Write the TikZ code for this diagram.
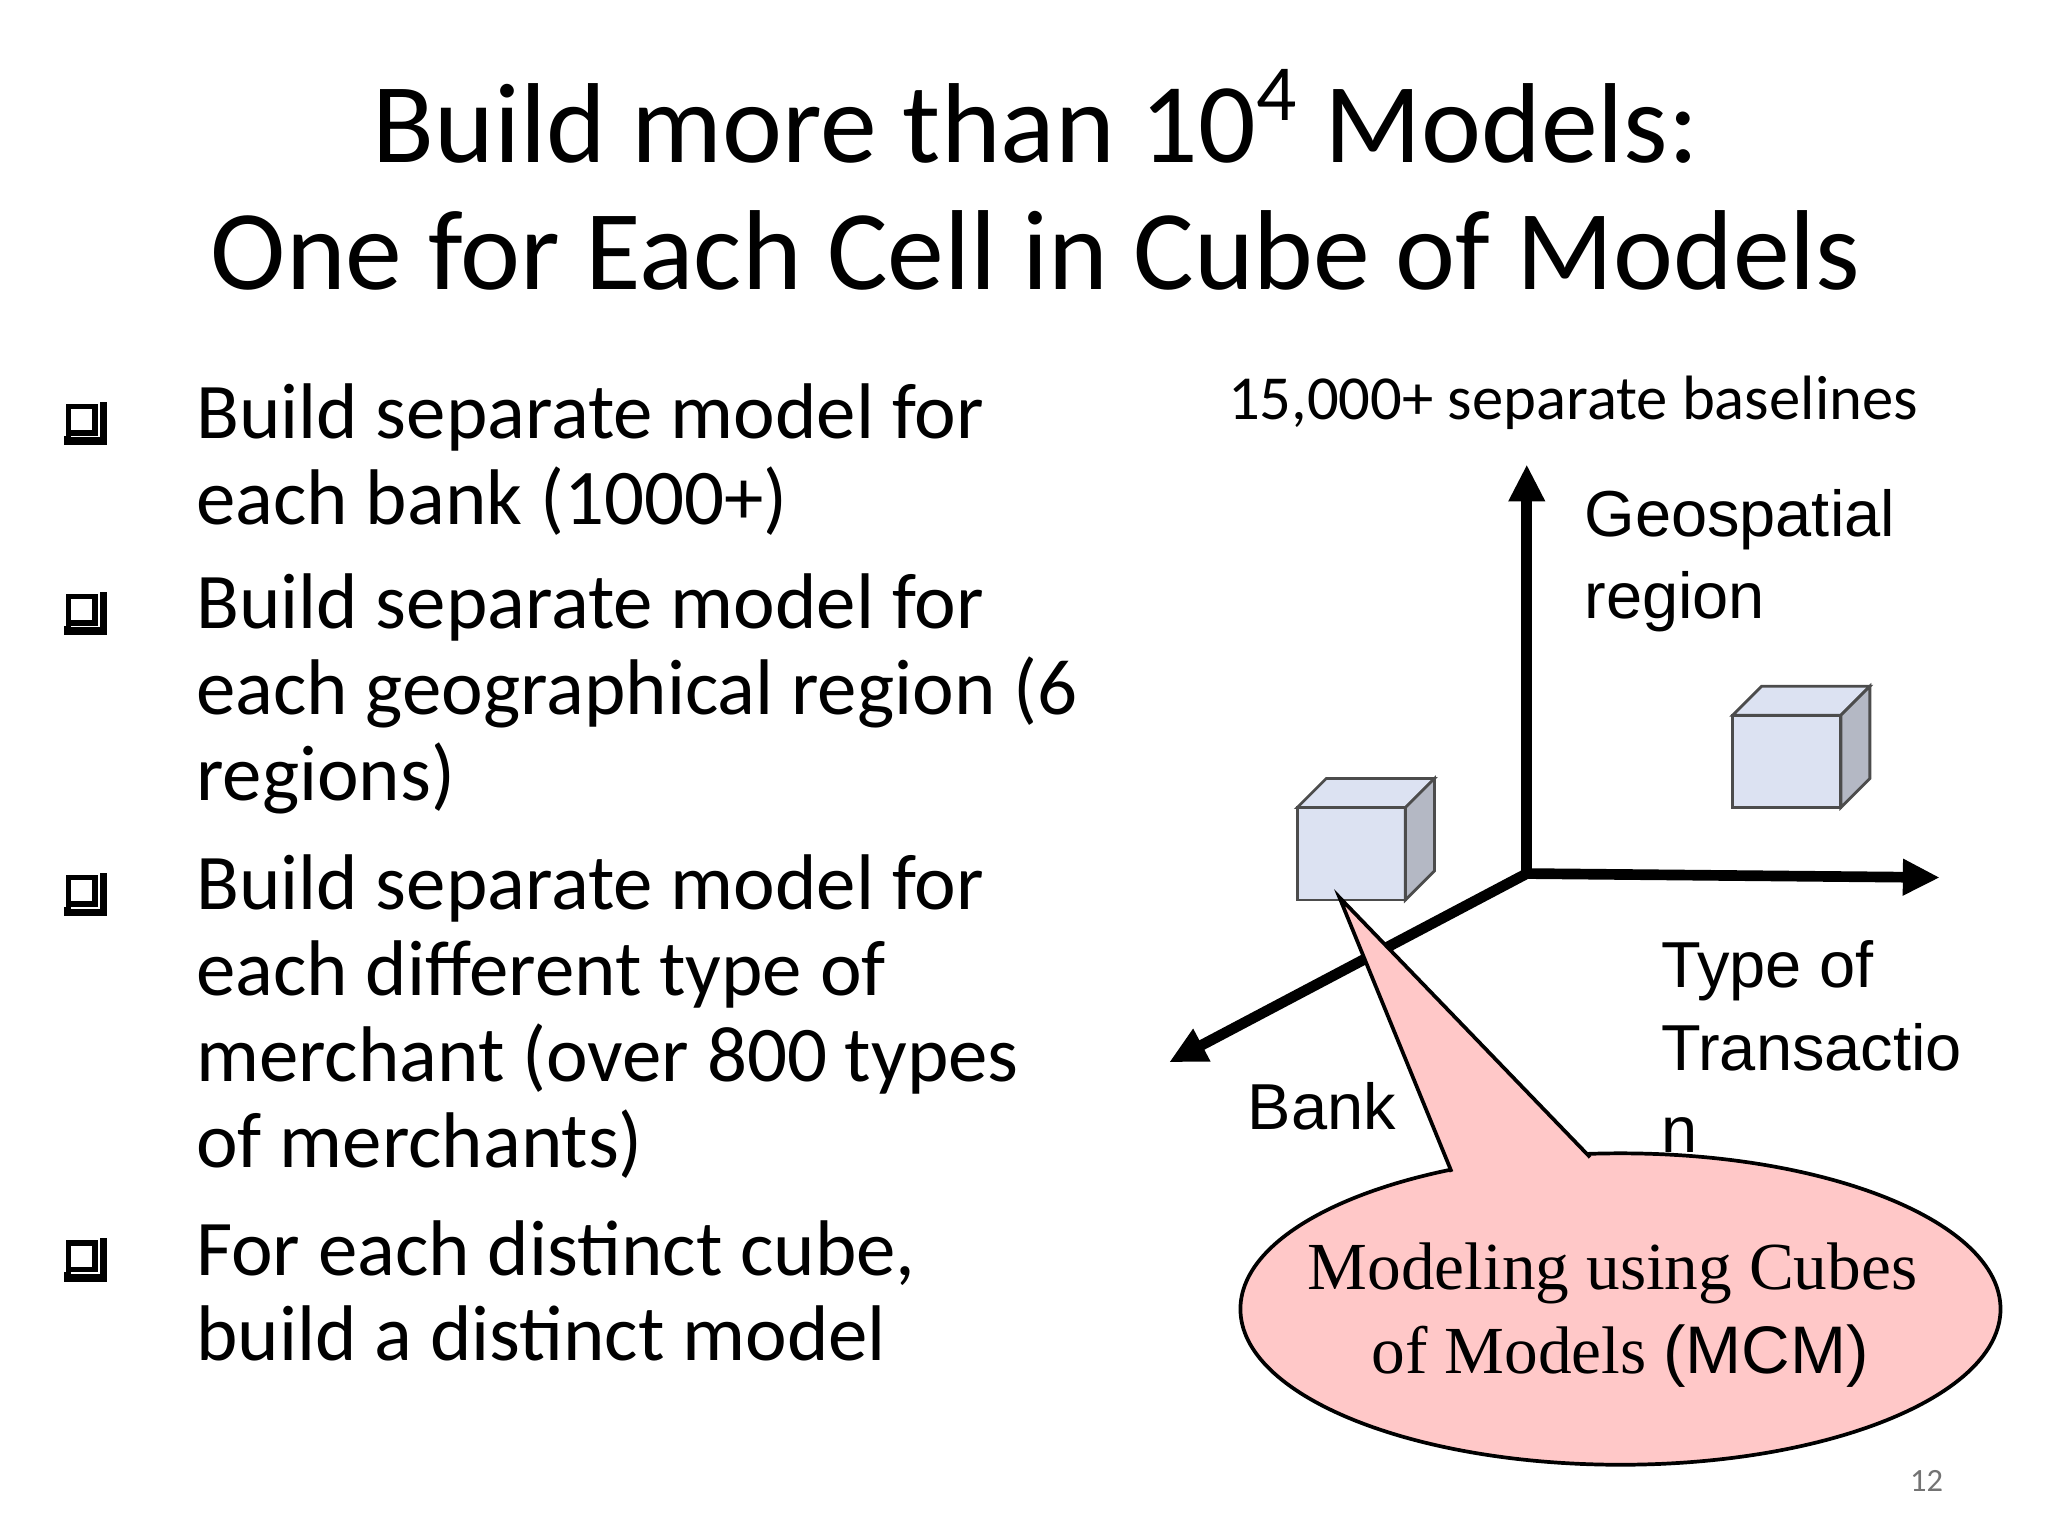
\documentclass[tikz,border=0pt]{standalone}
\usepackage{fontspec}
\setmainfont{Carlito}
\newfontfamily\arialf{Liberation Sans}
\newfontfamily\timesf{Liberation Serif}
\usetikzlibrary{arrows.meta}
\definecolor{cubefront}{HTML}{DCE2F2}
\definecolor{cubeside}{HTML}{B4B8C4}
\definecolor{callout}{HTML}{FFC8C8}
\begin{document}
\begin{tikzpicture}[x=0.01cm,y=-0.01cm,
  bul/.style={draw,line width=1.2pt,minimum size=0.2cm,inner sep=0pt},
  btext/.style={anchor=north west,align=left,font=\fontsize{17}{18.5}\selectfont,inner sep=0pt},
  lab/.style={font=\arialf\fontsize{14}{17.8}\selectfont,align=left,inner sep=0pt},
  axis/.style={line width=2.3pt,-{Triangle[length=0.28cm,width=0.26cm]}},
  cubeline/.style={draw=black!70,line width=0.6pt}]
\useasboundingbox (0,0) rectangle (1552,1164);
\node (t1) at (785,88) {\fontsize{24.5}{28}\selectfont Build more than 10\textsuperscript{4} Models:};
\node (t2) at (785,190) {\fontsize{24.5}{28}\selectfont One for Each Cell in Cube of Models};
% bullets
\foreach \n/\y in {b1/318,b2/462,b3/675,b4/952}{
  \node[bul] (\n) at (62,\y) {};
  \draw[line width=1.6pt] ([xshift=0.4pt]\n.south west) -- ([xshift=0.4pt,yshift=-1.2pt]\n.south west) -- ([xshift=1.2pt,yshift=-1.2pt]\n.south east) -- ([xshift=1.2pt,yshift=0.4pt]\n.north east);}
\node[btext] (x1) at (148,290) {Build separate model for\\each bank (1000+)};
\node[btext] (x2) at (148,434) {Build separate model for\\each geographical region (6\\regions)};
\node[btext] (x3) at (148,647) {Build separate model for\\each different type of\\merchant (over 800 types\\of merchants)};
\node[btext] (x4) at (148,924) {For each distinct cube,\\build a distinct model};
% right
\node (base) at (1192,305) {\fontsize{13.5}{15}\selectfont 15,000+ separate baselines};
\coordinate (o) at (1157,662);
\coordinate (up) at (1157,352);
\coordinate (rt) at (1470,665);
\coordinate (dl) at (886,805);
\draw[axis] (o) -- (up);
\draw[axis] (o) -- (rt);
\draw[axis] (o) -- (dl);
\node[lab,anchor=north west] (geo) at (1200,370) {Geospatial\\region};
\node[lab,anchor=north west] (typ) at (1258,712) {Type of\\Transactio\\n};
\node[lab,anchor=west] (bank) at (945,838) {Bank};
% cubes
\foreach \cx/\cy in {983/612,1313/542}{
  \filldraw[fill=cubefront,cubeline] (\cx,\cy) rectangle (\cx+82,\cy+70);
  \filldraw[fill=cubefront,cubeline] (\cx,\cy) -- (\cx+22,\cy-22) -- (\cx+104,\cy-22) -- (\cx+82,\cy) -- cycle;
  \filldraw[fill=cubeside,cubeline] (\cx+82,\cy) -- (\cx+104,\cy-22) -- (\cx+104,\cy+48) -- (\cx+82,\cy+70) -- cycle;
}
% callout
\coordinate (tip) at (1015,680);
\coordinate (pa) at (1100,888);
\coordinate (pb) at (1205,877);
\filldraw[fill=callout,draw=black,line width=0.8pt] (1228,992) ellipse [x radius=288,y radius=118];
\fill[callout] (tip) -- (pa) -- (1110,915) -- (1195,905) -- (pb) -- cycle;
\draw[line width=0.8pt] (pa) -- (tip) -- (pb);
\node (c1) at (1222,965) {\timesf\fontsize{14.5}{17}\selectfont Modeling using Cubes};
\node (c2) at (1228,1028) {\timesf\fontsize{14.5}{17}\selectfont of Models \arialf(MCM)};
\node[text=black!55] (pg) at (1460,1122) {\fontsize{7}{8}\selectfont 12};
\end{tikzpicture}
\end{document}
